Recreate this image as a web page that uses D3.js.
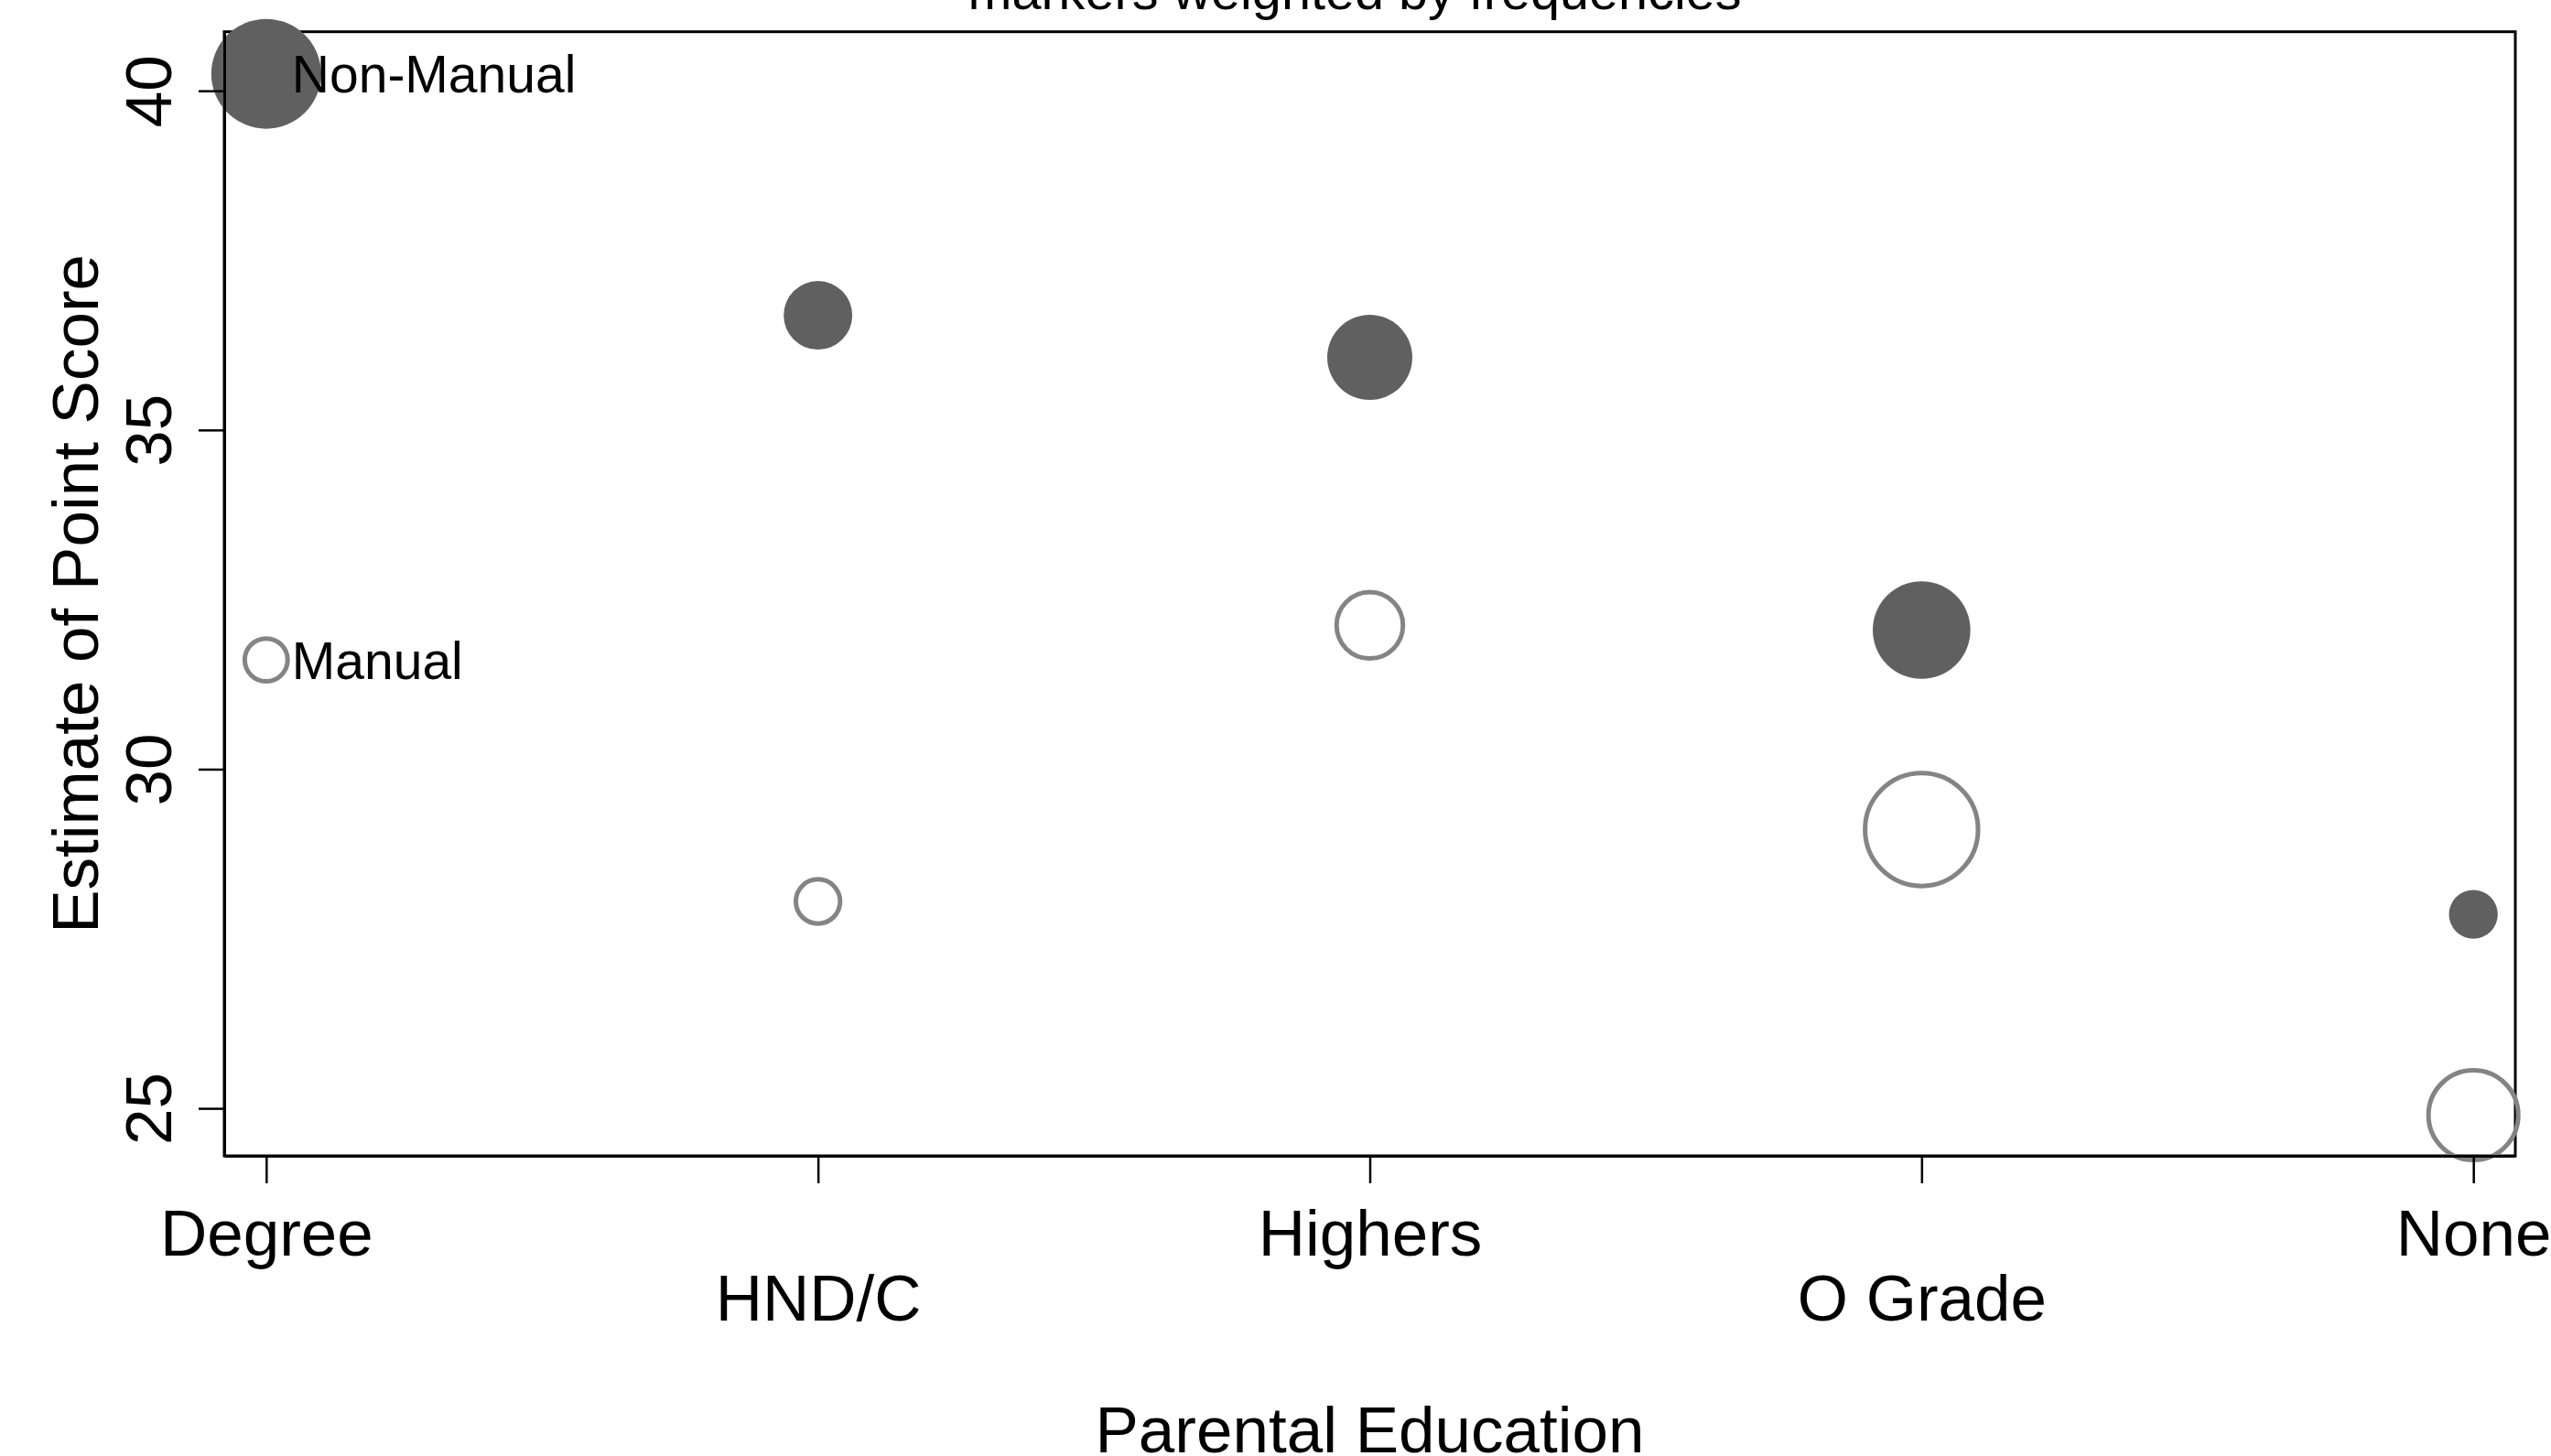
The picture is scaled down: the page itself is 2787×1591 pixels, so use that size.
<!DOCTYPE html>
<html>
<head>
<meta charset="utf-8">
<script src="https://cdn.jsdelivr.net/npm/d3@7"></script>
<style>
  html, body { margin: 0; padding: 0; background: #fff; }
  svg { display: block; }
  text { font-family: "Liberation Sans", Arial, Helvetica, sans-serif; fill: #000; }
</style>
</head>
<body>
<svg id="chart" width="2787" height="1591"></svg>
<script>
// ---- data ----
const categories = ["Degree", "HND/C", "Highers", "O Grade", "None"];
const nonManualScore = [40.25, 36.69, 36.07, 32.05, 27.86];
const manualScore    = [31.61, 28.05, 32.12, 29.11, 24.90];
// relative frequencies (marker area weights)
const nonManualFreq = [400, 156, 240, 316, 79];
const manualFreq    = [61, 65, 146, 423, 267];
const seriesNames = ["Non-Manual", "Manual"];
const yTicks = [25, 30, 35, 40];
const titleText = "markers weighted by frequencies";
const xTitle = "Parental Education";
const yTitle = "Estimate of Point Score";

// ---- layout ----
const W = 2787, H = 1591;
const plot = { left: 245, right: 2748, top: 34.7, bottom: 1263 };
const svg = d3.select("#chart");

const x = d3.scaleLinear().domain([0.924, 5.076]).range([plot.left, plot.right]);
const y = d3.scaleLinear().domain([24.30, 40.87]).range([plot.bottom, plot.top]);
const r = d3.scaleSqrt().domain([0, 400]).range([0, 60]);

// plot region frame (top/right)
svg.append("rect")
  .attr("x", plot.left).attr("y", plot.top)
  .attr("width", plot.right - plot.left).attr("height", plot.bottom - plot.top)
  .attr("fill", "none").attr("stroke", "#000").attr("stroke-width", 3);

// title
svg.append("text")
  .attr("x", 1480).attr("y", 10)
  .attr("text-anchor", "middle")
  .attr("font-size", 57.6)
  .text(titleText);

// markers
const nm = categories.map((c, i) => ({ i: i + 1, v: nonManualScore[i], f: nonManualFreq[i] }));
const ma = categories.map((c, i) => ({ i: i + 1, v: manualScore[i], f: manualFreq[i] }));

svg.append("g").selectAll("circle").data(nm).join("circle")
  .attr("cx", d => x(d.i)).attr("cy", d => y(d.v)).attr("r", d => r(d.f))
  .attr("fill", "#606060");

svg.append("g").selectAll("circle").data(ma).join("circle")
  .attr("cx", d => x(d.i)).attr("cy", d => y(d.v)).attr("r", d => r(d.f))
  .attr("fill", "none").attr("stroke", "#848484").attr("stroke-width", 5);

// marker labels on first category
[[nm[0], seriesNames[0]], [ma[0], seriesNames[1]]].forEach(([d, name]) => {
  svg.append("text")
    .attr("x", x(d.i) + 28).attr("y", y(d.v))
    .attr("dy", "0.36em")
    .attr("font-size", 57)
    .text(name);
});

// y axis
const yAxis = svg.append("g")
  .attr("transform", `translate(${plot.left},0)`)
  .call(d3.axisLeft(y).tickValues(yTicks).tickSize(28).tickSizeOuter(0));
yAxis.select(".domain").attr("stroke-width", 3);
yAxis.selectAll(".tick line").attr("stroke-width", 2.5);
yAxis.selectAll(".tick text")
  .attr("x", 0).attr("dy", 0)
  .attr("text-anchor", "middle")
  .attr("font-size", 71)
  .attr("font-family", "Liberation Sans, Arial, sans-serif")
  .attr("fill", "#000")
  .attr("transform", `translate(${187 - plot.left},0) rotate(-90)`);

// x axis
const xAxis = svg.append("g")
  .attr("transform", `translate(0,${plot.bottom})`)
  .call(d3.axisBottom(x).tickValues(categories.map((c, i) => i + 1))
    .tickFormat(v => categories[v - 1]).tickSize(30).tickSizeOuter(0));
xAxis.select(".domain").attr("stroke-width", 3);
xAxis.selectAll(".tick line").attr("stroke-width", 2.5);
xAxis.selectAll(".tick text")
  .attr("dy", 0)
  .attr("y", (d, i) => (i % 2 === 0 ? 108.7 : 180))
  .attr("font-size", 71)
  .attr("font-family", "Liberation Sans, Arial, sans-serif")
  .attr("fill", "#000");

// axis titles
svg.append("text")
  .attr("x", (plot.left + plot.right) / 2).attr("y", 1587)
  .attr("text-anchor", "middle").attr("font-size", 71)
  .text(xTitle);

svg.append("text")
  .attr("transform", `translate(107,${(plot.top + plot.bottom) / 2}) rotate(-90)`)
  .attr("text-anchor", "middle").attr("font-size", 71)
  .text(yTitle);
</script>
</body>
</html>
